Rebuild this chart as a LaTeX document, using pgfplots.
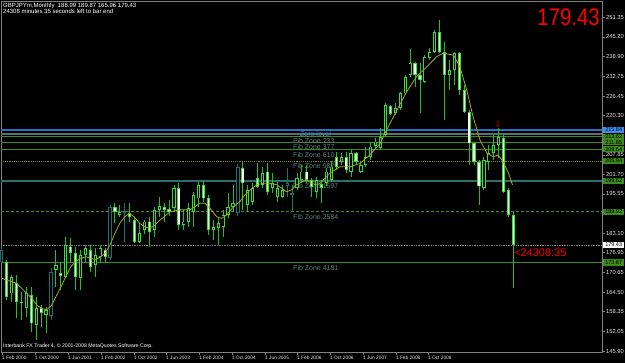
\documentclass[border=0pt]{standalone}
\usepackage{pgfplots}
\pgfplotsset{compat=1.18}
\usepackage{pgfplotstable}
\usepackage{fontspec}
\setmainfont{Liberation Sans}
\newfontfamily\djv{DejaVu Sans}
\definecolor{wick}{HTML}{22C022}
\definecolor{edge}{HTML}{33E033}
\definecolor{tealc}{HTML}{1E7070}
\definecolor{maline}{HTML}{A8A818}
\definecolor{fibgreen}{HTML}{3C8C1E}
\definecolor{fibolive}{HTML}{7A8A20}
\definecolor{fibteal}{HTML}{2A7070}
\definecolor{fibgray}{HTML}{5A7070}
\definecolor{zeroblue}{HTML}{2A70C8}
\definecolor{fibtext}{HTML}{5F8080}
\definecolor{zerotext}{HTML}{3D7FB5}
\definecolor{boxgreen}{HTML}{3C8A1C}
\definecolor{boxblue}{HTML}{3A90E8}
\definecolor{framegray}{HTML}{808080}

\pgfplotstableread{
i o h l c
1 164.1 169.9 161.5 169.4
4 159.4 166.2 156.7 164.1
6 154.1 163.1 149.4 159.4
8 157.3 159.9 151.5 158.9
10 171.5 177.8 166.2 173.1
12 169.4 182.0 168.9 179.4
15 168.9 177.8 165.2 176.2
16 176.2 179.4 174.1 178.4
18 173.1 178.4 169.4 176.2
19 175.7 179.4 173.6 178.4
23 188.9 192.0 188.2 189.8
27 180.4 186.3 179.9 183.1
28 184.1 187.3 183.0 186.8
30 184.1 191.5 182.0 190.5
31 190.5 194.7 188.3 191.7
34 191.0 198.4 189.9 197.3
36 185.7 190.5 184.1 186.8
37 186.8 192.6 185.2 191.0
38 189.9 196.2 185.2 195.2
39 194.1 199.4 191.5 198.4
42 184.1 187.3 181.0 185.2
43 184.7 188.3 179.4 186.3
44 185.2 190.5 182.0 188.9
45 188.9 195.7 187.8 191.5
46 191.5 198.4 189.9 192.6
49 192.0 198.4 189.9 196.8
50 193.1 198.9 192.0 197.3
52 198.4 204.1 197.3 202.1
54 197.3 202.1 195.7 198.9
55 194.7 199.4 193.1 197.3
56 194.7 198.4 194.2 196.8
59 197.3 202.1 196.8 200.5
60 199.9 204.7 198.9 202.6
63 196.2 200.9 194.1 199.9
65 198.9 203.6 197.9 202.6
66 200.0 206.0 199.4 204.2
68 205.7 208.4 204.7 207.3
70 202.6 209.4 201.0 208.4
72 202.6 205.7 202.1 204.7
73 204.7 210.5 204.2 207.3
74 207.3 212.1 206.3 210.5
75 210.7 213.1 210.0 212.1
76 210.0 216.3 209.4 213.6
77 214.2 224.2 213.6 223.6
79 221.0 224.2 220.5 222.6
80 222.6 227.9 222.1 227.3
81 227.3 233.1 226.8 232.6
82 233.1 241.2 232.6 236.8
85 231.0 239.4 230.5 238.9
86 238.4 241.5 237.9 240.5
87 240.5 247.3 240.0 246.8
90 233.1 237.9 228.4 234.7
91 234.7 240.5 230.0 240.0
97 197.3 207.3 196.8 206.3
98 205.7 211.0 203.1 208.4
99 208.4 214.2 206.3 211.0
100 211.0 216.3 206.8 213.6
}\bull

\pgfplotstableread{
i o h l c
0 174.1 174.6 161.9 163.1
2 167.5 169.9 156.2 161.5
3 161.5 164.7 155.7 161.0
5 163.6 166.2 152.0 154.6
7 159.4 160.4 153.6 157.8
11 170.6 173.6 165.2 169.6
13 178.9 181.5 173.6 177.0
14 176.8 178.9 165.2 169.4
17 177.8 179.4 170.9 172.6
20 177.8 178.4 173.6 175.7
22 191.5 192.6 186.3 189.9
25 189.4 192.6 186.8 188.3
26 187.3 187.9 179.9 180.4
29 186.8 188.3 178.9 183.6
32 191.3 192.6 186.8 190.5
33 190.7 193.6 188.7 189.9
35 197.3 198.9 184.1 185.7
40 198.4 200.0 193.1 194.1
41 194.1 195.2 182.6 184.1
48 203.6 205.7 190.5 198.9
51 200.5 205.2 197.3 197.8
53 202.6 205.2 195.2 196.2
61 202.6 204.7 198.9 199.9
62 199.9 200.5 194.7 197.8
64 198.6 200.0 192.6 197.3
67 207.3 208.9 203.1 204.2
69 207.3 208.9 202.1 203.1
71 208.4 208.9 204.7 205.7
78 223.3 223.6 220.5 220.8
83 236.8 237.3 229.4 233.1
84 233.1 236.8 221.0 231.5
88 246.8 250.5 240.0 240.5
89 240.3 243.7 218.9 233.1
92 240.0 240.5 226.8 228.4
93 228.4 229.9 221.0 221.5
94 221.5 222.1 204.7 211.5
95 211.5 212.1 204.7 205.7
96 205.7 206.3 192.1 197.9
101 213.1 214.2 195.7 196.3
102 196.8 197.3 188.3 189.0
103 188.99 189.87 165.96 179.43
}\bear

\pgfplotstableread{
i o h l c
-1 173.9 178.5 173.6 177.8
9 157.0 172.0 155.7 170.9
21 175.2 192.0 174.5 191.5
24 189.5 192.6 180.4 190.0
47 189.4 205.0 188.5 204.1
57 198.0 203.6 194.7 199.0
58 195.2 198.4 189.9 195.7
}\tealc

\pgfplotstableread{
x y
-1.02 168.9
0 168.3
1.02 167.8
2.03 167.3
3.05 165.7
4.07 164.1
5.08 162.6
6.10 160.4
7.11 159.4
8.13 158.9
9.15 160.4
10.02 163.1
11.04 166.2
12.0 169.4
13.0 172.5
14.0 174.1
15.0 175.2
16.1 175.7
17.1 175.2
18.1 174.7
19.1 175.7
20.0 176.8
21.0 179.4
22.0 183.1
23.0 186.3
24.0 188.3
24.9 189.4
25.9 188.3
27.0 186.3
28.0 185.2
29.0 184.7
30.1 185.7
31.2 187.3
33.2 189.9
35.2 190.5
37.3 190.5
39.3 192.6
40.3 192.6
41.3 191.0
42.7 188.3
43.7 187.8
44.7 188.9
46.1 191.5
47.4 193.1
48.4 195.2
49.5 196.8
50.8 198.4
52.2 198.9
53.5 198.9
54.9 198.4
55.9 197.3
56.9 196.2
57.9 196.8
58.9 198.4
60.0 199.4
61.0 199.9
62.0 198.9
63.0 198.4
63.7 198.9
65.7 202.1
67.7 204.1
69.8 204.1
71.8 205.2
73.8 207.8
75.9 211.5
77.2 215.7
79.3 222.0
81.3 227.8
83.3 232.6
85.4 235.7
87.4 238.9
88.7 240.0
90.8 239.4
92.1 235.7
93.5 228.4
94.8 219.9
96.2 212.6
97.6 208.4
98.9 207.3
99.9 207.8
100.9 205.7
102.0 202.1
102.8 198.4
}\ma

\pgfplotsset{
  wicks/.style={draw=none, mark=none, forget plot,
    error bars/.cd, y dir=plus, y explicit, error mark=none,
    error bar style={draw=#1, line width=0.9pt}},
  bodies/.style 2 args={draw=none, mark=none, forget plot,
    error bars/.cd, y dir=plus, y explicit, error mark=none,
    error bar style={draw=#1, line width=#2, line cap=butt}},
}

\begin{document}
\begin{tikzpicture}
\fill[black] (0,0) rectangle (625pt,363pt);
\begin{axis}[
  at={(1pt,10.5pt)}, anchor=south west, scale only axis,
  width=601pt, height=350.8pt,
  xmin=-1.16, xmax=121.0, ymin=145.43, ymax=256.28,
  clip=false,
  axis line style={draw=framegray, line width=0.6pt},
  xtick={-0.96,5.75,12.46,19.17,25.87,32.38,39.09,45.8,52.5,59.0,65.7,72.4,79.1,85.6},
  xticklabels={1 Feb 2000,1 Oct 2000,1 Jun 2001,1 Feb 2002,1 Oct 2002,1 Jun 2003,1 Feb 2004,1 Oct 2004,1 Jun 2005,1 Feb 2006,1 Oct 2006,1 Jun 2007,1 Feb 2008,1 Oct 2008},
  xtick pos=bottom,
  xticklabel style={anchor=north west, font=\fontsize{4.8}{5}\selectfont, text=white!90!black, inner sep=0pt, yshift=-1pt},
  ytick={251.35,245.20,238.90,232.75,226.45,220.30,207.85,201.70,195.55,183.10,176.95,170.65,164.50,158.35,152.05,145.90},
  yticklabels={251.35,245.20,238.90,232.75,226.45,220.30,207.85,201.70,195.55,183.10,176.95,170.65,164.50,158.35,152.05,145.90},
  ytick pos=right, yticklabel pos=right,
  yticklabel style={font=\fontsize{5.8}{6}\selectfont, text=white!90!black, inner sep=0pt, xshift=1.5pt},
  tick align=outside, major tick length=2.5pt,
  tick style={draw=framegray, line width=0.5pt},
]
% levels
\addplot[zeroblue, line width=2pt, forget plot] coordinates {(-1.16,215.84) (121,215.84)};
\addplot[fibgray, line width=1.6pt, forget plot] coordinates {(-1.16,214.38) (121,214.38)};
\addplot[fibgreen, line width=0.9pt, forget plot] coordinates {(-1.16,213.62) (121,213.62)};
\addplot[fibgreen, line width=0.9pt, forget plot] coordinates {(-1.16,211.85) (121,211.85)};
\addplot[fibgreen, line width=0.9pt, forget plot] coordinates {(-1.16,209.64) (121,209.64)};
\addplot[fibolive, line width=0.9pt, densely dotted, forget plot] coordinates {(-1.16,205.94) (121,205.94)};
\addplot[fibteal, line width=1.8pt, forget plot] coordinates {(-1.16,199.62) (121,199.62)};
\addplot[fibgreen, line width=0.9pt, densely dashed, forget plot] coordinates {(-1.16,189.92) (121,189.92)};
\addplot[framegray, line width=0.7pt, densely dotted, forget plot] coordinates {(-1.16,179.43) (121,179.43)};
\addplot[fibgreen, line width=0.9pt, forget plot] coordinates {(-1.16,173.87) (121,173.87)};

% fib texts
\begin{scope}[every node/.style={anchor=north west, inner sep=0pt, font=\fontsize{7}{7.5}\selectfont, text=fibtext}]
\node[text=zerotext] at (axis cs:59.6,215.5) {Zero level};
\node at (axis cs:58.2,213.0) {Fib Zone 233};
\node at (axis cs:58.2,211.2) {Fib Zone 377};
\node at (axis cs:58.2,208.7) {Fib Zone 610};
\node at (axis cs:58.2,205.2) {Fib Zone 987};
\node at (axis cs:58.2,199.0) {Fib Zone 1597};
\node at (axis cs:58.2,189.2) {Fib Zone 2584};
\node at (axis cs:58.2,173.1) {Fib Zone 4181};
\end{scope}

% wicks
\addplot[wicks=wick] table[x=i, y=l, y error plus expr={\thisrow{h}-\thisrow{l}}] {\bull};
\addplot[wicks=wick] table[x=i, y=l, y error plus expr={\thisrow{h}-\thisrow{l}}] {\bear};
\addplot[wicks=tealc] table[x=i, y=l, y error plus expr={\thisrow{h}-\thisrow{l}}] {\tealc};
% bodies
\addplot[bodies={edge}{3.2pt}] table[x=i, y expr={min(\thisrow{o},\thisrow{c})}, y error plus expr={max(abs(\thisrow{c}-\thisrow{o}),0.3)}] {\bull};
\addplot[bodies={black}{1.4pt}] table[x=i, y expr={min(\thisrow{o},\thisrow{c})+0.28}, y error plus expr={max(abs(\thisrow{c}-\thisrow{o})-0.56,0)}] {\bull};
\addplot[bodies={edge}{3.2pt}] table[x=i, y expr={min(\thisrow{o},\thisrow{c})}, y error plus expr={max(abs(\thisrow{c}-\thisrow{o}),0.3)}] {\bear};
\addplot[bodies={white!92!green}{1.4pt}] table[x=i, y expr={min(\thisrow{o},\thisrow{c})+0.28}, y error plus expr={max(abs(\thisrow{c}-\thisrow{o})-0.56,0)}] {\bear};
\addplot[bodies={tealc}{3.2pt}] table[x=i, y expr={min(\thisrow{o},\thisrow{c})}, y error plus expr={max(abs(\thisrow{c}-\thisrow{o}),0.3)}] {\tealc};
\addplot[bodies={black}{1.4pt}] table[x=i, y expr={min(\thisrow{o},\thisrow{c})+0.28}, y error plus expr={max(abs(\thisrow{c}-\thisrow{o})-0.56,0)}] {\tealc};

% moving average
\addplot[maline, line width=0.8pt, mark=none, forget plot] table[x=x, y=y] {\ma};

% right price boxes
\begin{scope}[every node/.style={anchor=west, inner sep=0pt, minimum width=21pt, minimum height=6.3pt, font=\fontsize{5.5}{6}\selectfont, xshift=1pt}]
\node[fill=boxblue, text=black!80!blue] at (axis cs:121,215.84) {215.84};
\node[fill=boxgreen, text=black] at (axis cs:121,213.62) {213.62};
\node[fill=boxgreen, text=black] at (axis cs:121,211.85) {211.85};
\node[fill=boxgreen, text=black] at (axis cs:121,209.64) {209.64};
\node[fill=boxgreen, text=black] at (axis cs:121,205.94) {205.94};
\node[fill=boxgreen, text=black] at (axis cs:121,199.62) {199.62};
\node[fill=boxgreen, text=black] at (axis cs:121,189.92) {189.92};
\node[fill=white, text=black] at (axis cs:121,179.43) {179.43};
\node[fill=boxgreen, text=black] at (axis cs:121,173.87) {173.87};
\end{scope}

% red annotations
\node[anchor=west, inner sep=0pt, text=red, font=\fontsize{11}{12}\selectfont] at (axis cs:103.1,177.03) {<24308:35};
\node[anchor=south, inner sep=0pt, text=red!80!black, font=\djv\fontsize{8.5}{9}\selectfont] at (axis cs:99.9,216.5) {⇩};
\end{axis}

\node[anchor=east, inner sep=0pt, text=red, xscale=0.85, font=\fontsize{24}{26}\selectfont] at (600pt,346pt) {179.43};
\node[anchor=north west, align=left, inner sep=0pt, text=white, font=\fontsize{6}{6.3}\selectfont] at (3pt,360pt) {GBPJPYm,Monthly\ \ 188.99 189.87 165.96 179.43\\24308 minutes 35 seconds left to bar end};
\node[anchor=west, inner sep=0pt, text=white, font=\fontsize{5.2}{6}\selectfont] at (3pt,16.5pt) {Interbank FX Trader 4, © 2001-2008 MetaQuotes Software Corp.};

\pgfresetboundingbox
\path[use as bounding box] (0,0) rectangle (625pt,363pt);
\end{tikzpicture}
\end{document}
